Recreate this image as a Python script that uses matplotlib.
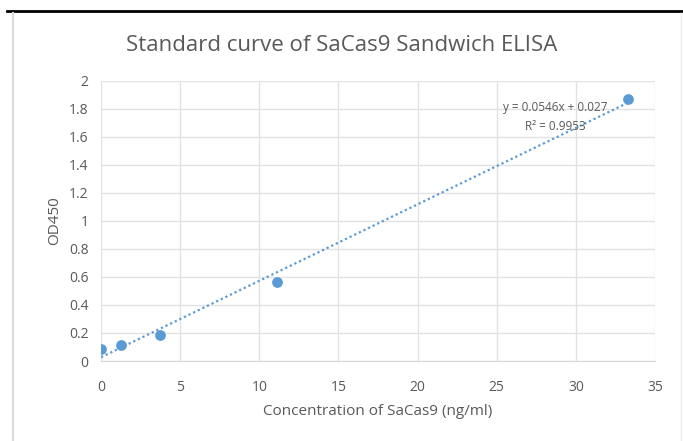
import matplotlib.pyplot as plt
from matplotlib.lines import Line2D

# data
conc = [0, 1.23, 3.7, 11.1, 33.3]
od450 = [0.086, 0.114, 0.186, 0.565, 1.87]
slope = 0.0546
intercept = 0.027

plt.rcParams['font.family'] = ['Open Sans', 'DejaVu Sans']

fig = plt.figure(figsize=(6.83, 4.41), dpi=100)
ax = fig.add_axes([0.148, 0.1814, 0.811, 0.635])

grey = '#595959'
grid = '#e2e2e2'

# trendline
tx = [min(conc), max(conc)]
ty = [slope * v + intercept for v in tx]
ax.plot(tx, ty, color='#5b9bd5', linestyle=(0, (1, 1.3)), linewidth=1.6, zorder=2)

ax.scatter(conc, od450, s=60, color='#5b9bd5', zorder=3, linewidths=0)

ax.set_xlim(0, 35)
ax.set_ylim(0, 2)
ax.set_xticks(range(0, 36, 5))
ax.set_yticks([i / 10 for i in range(0, 21, 2)])
ax.set_yticklabels(['0', '0.2', '0.4', '0.6', '0.8', '1', '1.2', '1.4', '1.6', '1.8', '2'])
ax.grid(True, color=grid, linewidth=1)
ax.set_axisbelow(True)
for s in ['top', 'right', 'left']:
    ax.spines[s].set_visible(False)
ax.spines['bottom'].set_color('#d9d9d9')
ax.tick_params(length=0, colors=grey, labelsize=10, pad=9)
ax.tick_params(axis='x', pad=14)

ax.set_xlabel('Concentration of SaCas9 (ng/ml)', color=grey, fontsize=11, labelpad=6)
ax.set_ylabel('OD450', color=grey, fontsize=11, labelpad=5)

fig.text(0.5, 0.896, 'Standard curve of SaCas9 Sandwich ELISA', ha='center', va='center',
         color=grey, fontsize=16)

ax.text(28.7, 1.81, f'y = {slope}x + {intercept}', ha='center', va='center', color=grey, fontsize=8.5)
ax.text(28.7, 1.675, 'R² = 0.9953', ha='center', va='center', color=grey, fontsize=8.5)

# frame of the chart
fig.add_artist(Line2D([7 / 683, 1], [1 - 10.5 / 441, 1 - 10.5 / 441], color='black', linewidth=2))
fig.add_artist(Line2D([12.5 / 683, 12.5 / 683], [0, 1 - 13 / 441], color='#d9d9d9', linewidth=1.5))
fig.add_artist(Line2D([681 / 683, 681 / 683], [0, 1 - 13 / 441], color='#ececec', linewidth=1))

fig.savefig('out.png', dpi=100)
